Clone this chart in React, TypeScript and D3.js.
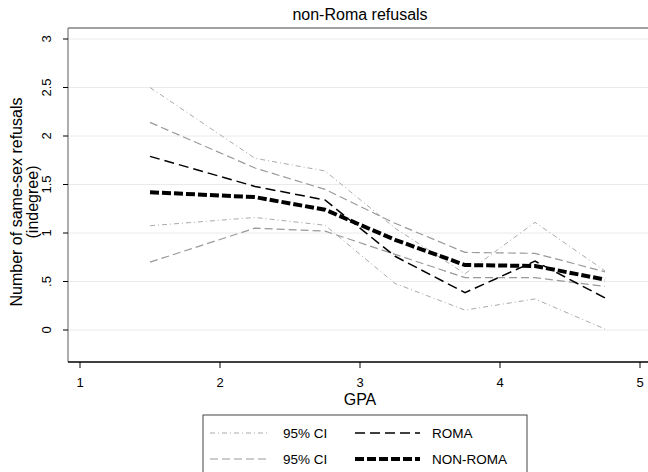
import React from "react";
import * as d3 from "d3";

const gpa = [1.5, 2.25, 2.75, 3.25, 3.75, 4.25, 4.75];
const nonRoma = [1.42, 1.37, 1.24, 0.93, 0.67, 0.66, 0.52];
const roma = [1.79, 1.48, 1.34, 0.76, 0.385, 0.71, 0.33];
const nonRomaUpper = [2.14, 1.67, 1.45, 1.1, 0.8, 0.79, 0.6];
const nonRomaLower = [0.7, 1.05, 1.02, 0.78, 0.54, 0.54, 0.45];
const romaUpper = [2.5, 1.77, 1.64, 1.05, 0.58, 1.11, 0.61];
const romaLower = [1.075, 1.16, 1.08, 0.48, 0.205, 0.32, 0.01];
const yTicks = [0, 0.5, 1, 1.5, 2, 2.5, 3];
const yTickLabels = ["0", ".5", "1", "1.5", "2", "2.5", "3"];
const xTicks = [1, 2, 3, 4, 5];

const FONT = "'Liberation Sans', Arial, sans-serif";

export default function App() {
  const W = 648, H = 472;
  const left = 68, top = 28, right = 648, bottom = 362;
  const x = d3.scaleLinear().domain([1, 5]).range([80, 640]);
  const y = d3.scaleLinear().domain([0, 3]).range([330, 39]);
  const line = (vals: number[]) =>
    d3.line<number>().x((_, i) => x(gpa[i])).y((v) => y(v))(vals) || "";

  const dotStyle = { stroke: "#aaaaaa", strokeWidth: 1, strokeDasharray: "5 3 1 3" };
  const dashStyle = { stroke: "#999999", strokeWidth: 1.2, strokeDasharray: "8 4" };
  const romaStyle = { stroke: "#000", strokeWidth: 1.5, strokeDasharray: "10 5" };
  const nonRomaStyle = { stroke: "#000", strokeWidth: 4, strokeDasharray: "9 3" };

  return (
    <svg width={W} height={H} style={{ position: "absolute", left: 0, top: 0, background: "#fff" }} fontFamily={FONT}>
      <rect x={0} y={0} width={W} height={H} fill="#fff" />
      <text x={360} y={20} textAnchor="middle" fontSize={16}>non-Roma refusals</text>
      {yTicks.map((t) => (
        <line key={"g" + t} x1={left} x2={right} y1={y(t)} y2={y(t)} stroke="#eaeaea" strokeWidth={1} />
      ))}
      <line x1={left} x2={right} y1={top} y2={top} stroke="#444" strokeWidth={1.2} />
      <line x1={left} x2={left} y1={top} y2={bottom} stroke="#777" strokeWidth={1.2} />
      <line x1={left} x2={right} y1={bottom} y2={bottom} stroke="#000" strokeWidth={1.5} />
      {yTicks.map((t, i) => (
        <g key={"yt" + t}>
          <line x1={left - 5} x2={left} y1={y(t)} y2={y(t)} stroke="#000" strokeWidth={1} />
          <text transform={`translate(51,${y(t)}) rotate(-90)`} textAnchor="middle" fontSize={13}>
            {yTickLabels[i]}
          </text>
        </g>
      ))}
      {xTicks.map((t) => (
        <g key={"xt" + t}>
          <line x1={x(t)} x2={x(t)} y1={bottom} y2={bottom + 6} stroke="#000" strokeWidth={1} />
          <text x={x(t)} y={387} textAnchor="middle" fontSize={13}>{t}</text>
        </g>
      ))}
      <text x={360} y={405} textAnchor="middle" fontSize={16}>GPA</text>
      <text transform="translate(22,202) rotate(-90)" textAnchor="middle" fontSize={16}>Number of same-sex refusals</text>
      <text transform="translate(38,202) rotate(-90)" textAnchor="middle" fontSize={16}>(indegree)</text>

      <path d={line(romaUpper)} fill="none" {...dotStyle} />
      <path d={line(romaLower)} fill="none" {...dotStyle} />
      <path d={line(nonRomaUpper)} fill="none" {...dashStyle} />
      <path d={line(nonRomaLower)} fill="none" {...dashStyle} />
      <path d={line(roma)} fill="none" {...romaStyle} />
      <path d={line(nonRoma)} fill="none" {...nonRomaStyle} />

      <rect x={203} y={415} width={324} height={70} fill="#fff" stroke="#444" strokeWidth={1} />
      <line x1={210} x2={270} y1={433} y2={433} {...dotStyle} />
      <text x={283} y={438} fontSize={13.5}>95% CI</text>
      <line x1={210} x2={270} y1={459} y2={459} {...dashStyle} />
      <text x={283} y={464} fontSize={13.5}>95% CI</text>
      <line x1={355} x2={420} y1={433} y2={433} {...romaStyle} />
      <text x={432} y={438} fontSize={13.5}>ROMA</text>
      <line x1={355} x2={420} y1={459} y2={459} {...nonRomaStyle} />
      <text x={432} y={464} fontSize={13.5}>NON-ROMA</text>
    </svg>
  );
}
